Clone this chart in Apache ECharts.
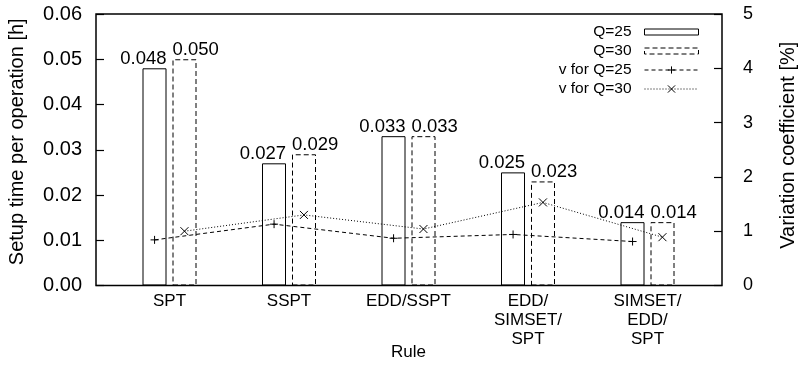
<!DOCTYPE html>
<html>
<head>
<meta charset="utf-8">
<script src="https://cdn.jsdelivr.net/npm/echarts@6/dist/echarts.min.js"></script>
<style>html,body{margin:0;padding:0;background:#fff;}#c{width:801px;height:366px;}</style>
</head>
<body>
<div id="c"></div>
<script>
const categories = ['SPT', 'SSPT', 'EDD/SSPT', 'EDD/\nSIMSET/\nSPT', 'SIMSET/\nEDD/\nSPT'];
const setupQ25 = [0.048, 0.027, 0.033, 0.025, 0.014];
const setupQ30 = [0.050, 0.029, 0.033, 0.023, 0.014];
const varQ25 = [0.84, 1.13, 0.87, 0.94, 0.81];
const varQ30 = [1.00, 1.30, 1.04, 1.53, 0.89];
const leftTicks = { min: 0, max: 0.06, interval: 0.01 };
const rightTicks = { min: 0, max: 5, interval: 1 };

const FONT = '"Liberation Sans", Arial, Helvetica, sans-serif';
const OFF = 0.125; // offset of each bar centre from its category centre (in category units)

const chart = echarts.init(document.getElementById('c'), null, { renderer: 'canvas' });

const plusPath = 'path://M0,4H8M4,0V8';
const crossPath = 'path://M0,0L8,8M8,0L0,8';
const barIcon = 'path://M0,0H54V6H0Z';

const option = {
  animation: false,
  backgroundColor: '#fff',
  textStyle: { fontFamily: FONT, color: '#000' },
  grid: [
    { left: 96, top: 14, width: 626, height: 271.5, show: true, borderColor: '#000', borderWidth: 1.5,
      backgroundColor: 'transparent', containLabel: false, outerBoundsMode: 'none' },
    { left: 109.75, top: 14, width: 597.5, height: 271.5, containLabel: false, outerBoundsMode: 'none' }
  ],
  xAxis: [
    { type: 'value', gridIndex: 0, min: 0, max: 1, show: false },
    { type: 'category', gridIndex: 1, data: categories,
      axisLine: { show: false }, axisTick: { show: false }, splitLine: { show: false },
      axisLabel: { color: '#000', fontFamily: FONT, fontSize: 17, lineHeight: 19, margin: 6 },
      name: 'Rule', nameLocation: 'middle', nameGap: 58, nameMoveOverlap: false,
      nameTextStyle: { color: '#000', fontFamily: FONT, fontSize: 17 } },
    { type: 'value', gridIndex: 1, min: -0.5, max: 4.5, show: false }
  ],
  yAxis: [
    { type: 'value', gridIndex: 0, position: 'left', min: leftTicks.min, max: leftTicks.max, interval: leftTicks.interval,
      axisLine: { show: false }, splitLine: { show: false },
      axisTick: { show: true, inside: true, length: 8, lineStyle: { color: '#000', width: 1.2 } },
      axisLabel: { color: '#000', fontFamily: FONT, fontSize: 20, margin: 14, formatter: v => v.toFixed(2) },
      name: 'Setup time per operation [h]', nameLocation: 'middle', nameGap: 69, nameRotate: 90, nameMoveOverlap: false,
      nameTextStyle: { color: '#000', fontFamily: FONT, fontSize: 20, padding: [0, 0, 0, 16] } },
    { type: 'value', gridIndex: 0, position: 'right', min: rightTicks.min, max: rightTicks.max, interval: rightTicks.interval,
      axisLine: { show: false }, splitLine: { show: false },
      axisTick: { show: true, inside: true, length: 8, lineStyle: { color: '#000', width: 1.2 } },
      axisLabel: { color: '#000', fontFamily: FONT, fontSize: 18, margin: 21 },
      name: 'Variation coefficient [%]', nameLocation: 'middle', nameGap: 56, nameRotate: 90, nameMoveOverlap: false,
      nameTextStyle: { color: '#000', fontFamily: FONT, fontSize: 20, padding: [0, 0, 0, 9] } },
    { type: 'value', gridIndex: 1, min: leftTicks.min, max: leftTicks.max, show: false },
    { type: 'value', gridIndex: 1, min: rightTicks.min, max: rightTicks.max, show: false }
  ],
  legend: {
    orient: 'vertical', align: 'right', right: 97, top: 19,
    itemWidth: 54, itemHeight: 9, itemGap: 3,
    textStyle: { color: '#000', fontFamily: FONT, fontSize: 15.5, lineHeight: 16, padding: [0, 8, 0, 0] },
    itemStyle: { borderWidth: 1 },
    lineStyle: { width: 1 },
    selectedMode: false,
    data: [
      { name: 'Q=25', icon: barIcon },
      { name: 'Q=30', icon: barIcon, itemStyle: { borderType: [5, 3] } },
      { name: 'v for Q=25' },
      { name: 'v for Q=30' }
    ]
  },
  series: [
    { name: 'Q=25', type: 'bar', xAxisIndex: 1, yAxisIndex: 2, data: setupQ25,
      barWidth: 24, barGap: '25%',
      itemStyle: { color: 'transparent', borderColor: '#000', borderWidth: 1 },
      label: { show: true, position: ['100%', 0], align: 'right', verticalAlign: 'bottom', distance: 0,
        color: '#000', fontFamily: FONT, fontSize: 18.5, formatter: p => p.value.toFixed(3) } },
    { name: 'Q=30', type: 'bar', xAxisIndex: 1, yAxisIndex: 2, data: setupQ30,
      barWidth: 24, barGap: '25%',
      itemStyle: { color: 'transparent', borderColor: '#000', borderWidth: 1, borderType: [5, 3] },
      label: { show: true, position: [0, 0], align: 'left', verticalAlign: 'bottom', distance: 0,
        color: '#000', fontFamily: FONT, fontSize: 18.5, formatter: p => p.value.toFixed(3) } },
    { name: 'v for Q=25', type: 'line', xAxisIndex: 2, yAxisIndex: 3,
      data: varQ25.map((v, i) => [i - OFF, v]),
      symbol: plusPath, symbolSize: 8, showSymbol: true,
      lineStyle: { color: '#000', width: 1, type: [4, 3] },
      itemStyle: { color: '#000', borderColor: '#000', borderWidth: 1 } },
    { name: 'v for Q=30', type: 'line', xAxisIndex: 2, yAxisIndex: 3,
      data: varQ30.map((v, i) => [i + OFF, v]),
      symbol: crossPath, symbolSize: 8, showSymbol: true,
      lineStyle: { color: '#000', width: 1, type: [1, 2] },
      itemStyle: { color: '#000', borderColor: '#000', borderWidth: 1 } }
  ]
};
chart.setOption(option);
</script>
</body>
</html>
